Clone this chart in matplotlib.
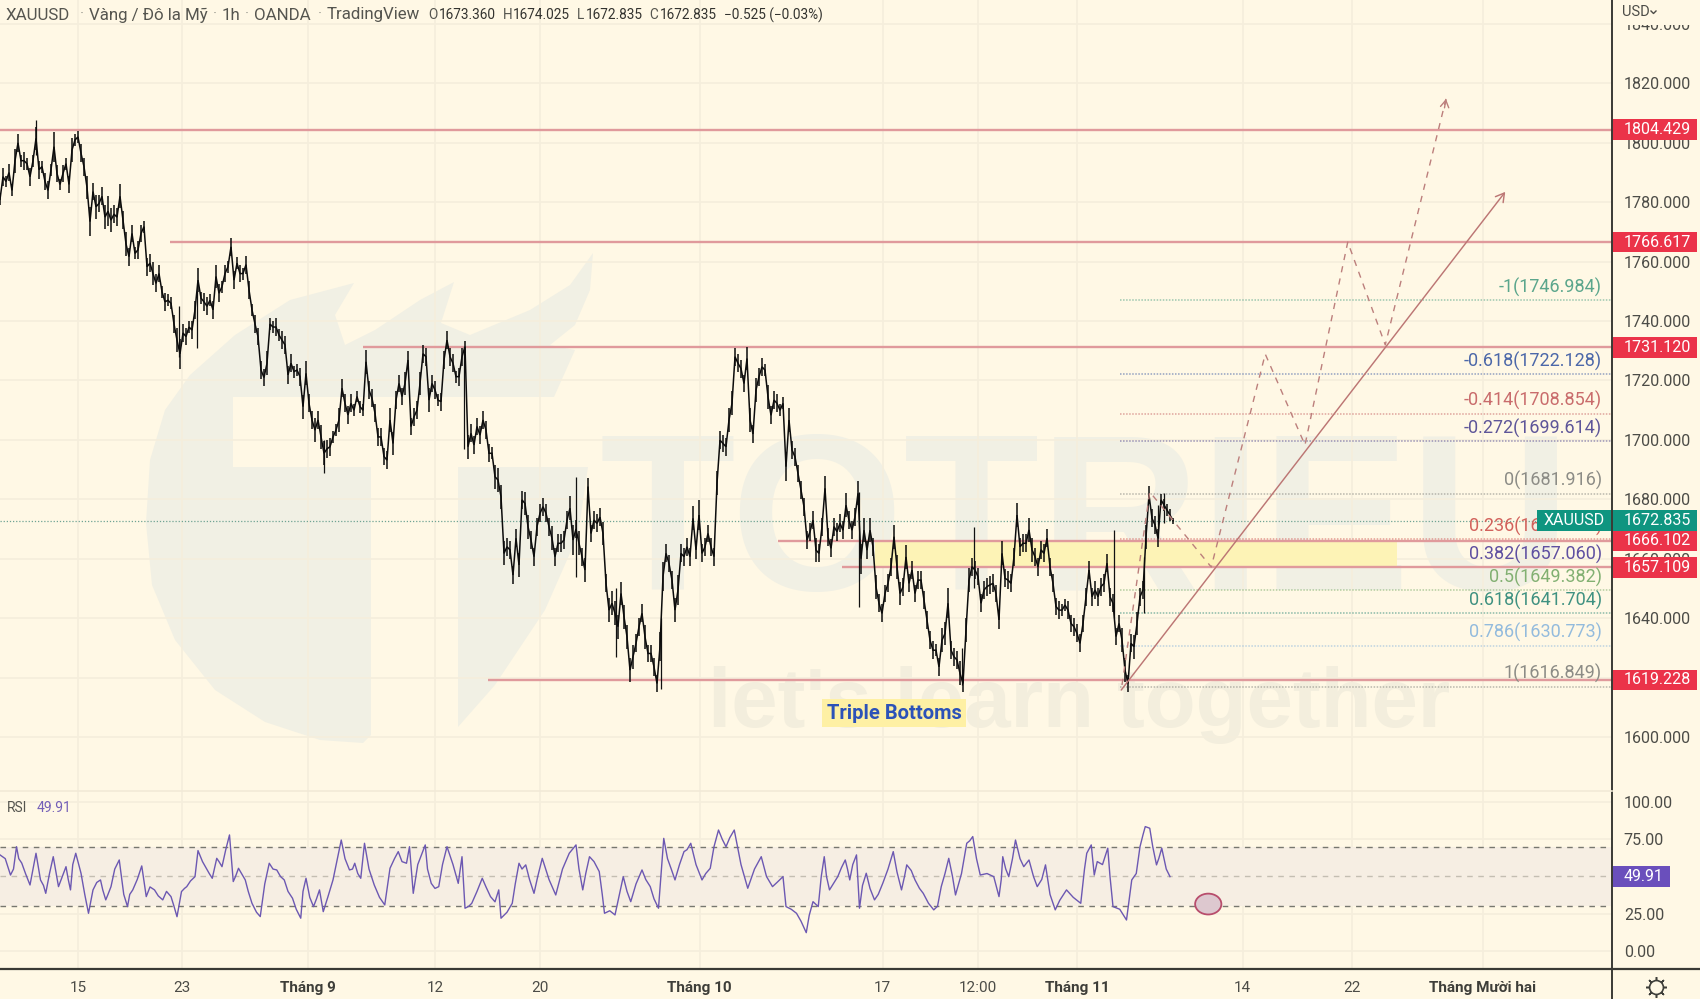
import numpy as np
import matplotlib
matplotlib.use("Agg")
import matplotlib.pyplot as plt
from matplotlib.patches import Rectangle, Ellipse, Polygon

plt.rcParams['font.family'] = ['Roboto', 'DejaVu Sans']

BG = '#FFF8E5'
GRID = '#F5EEDC'
WM = '#F1F0E4'
TXT = '#4C4C47'
FRAME = '#3A3A35'

# closing price, one value every 4 hourly bars
price_close = [
    1781,1788.6,1787,1790,1784,1794,1800,1794,1794,1793,
    1788.6,1794,1801.5,1791,1792,1787,1784,1791,1798.7,1789.7,
    1786,1789.7,1793,1786,1797.6,1801,1802,1796.5,1792,1785,
    1773.5,1783.6,1778.5,1779.6,1782,1775,1777,1774,1776,1775,
    1782,1774,1766,1761.7,1769.5,1762.8,1764,1769.5,1771.8,1758.3,
    1759.5,1756,1752.7,1756,1749.9,1746.5,1747,1746,1739,1733.6,
    1729,1736,1734.8,1738,1737,1743.8,1753.8,1747.7,1746.5,1745,
    1747,1743.8,1755,1749.4,1751.6,1756,1758.3,1765,1753.8,1759.5,
    1756,1756,1759,1750.5,1743.8,1739,1734.8,
    1723.5,1721,1725.8,1739,1738,1738,1735.3,1733.6,1732,1721.9,
    1725.8,1723,1723.5,1721.3,1711.2,1722.4,1712.3,1706.7,1703.3,1706.7,
    1701,1695.5,1697,1697.7,1701,1703.3,1706.7,1717.4,1712.3,1708.4,
    1712.3,1710,1714.6,1711.2,1710,1726.3,1716.8,1714,1709,1701,
    1701,1694.4,1693.2,1706.7,1698.8,1713.4,1719,1714.6,1719,1726.9,
    1704.5,1707.8,1710,1719,1729,1728,1713.4,1719,1716.8,1713.4,
    1712.9,1726.9,1733.6,1728,1725.8,1721.3,1721.3,1728,1731.4,1697.7,
    1702.2,1698.3,1704.5,1701.6,1706.7,1703.3,1695.5,1695.5,1687.6,1686.5,
    1680.9,1661.8,1664,1663,1654.5,1666.9,1657.9,1679.8,1678.6,1670.8,
    1666.3,1660.7,1670.8,1675.3,1677.5,1675.3,1670.8,1666.9,1660.7,1665.2,
    1665.2,1666.3,1673,1677,1666.3,1670,1665.2,1660.7,1656.2,1684.3,
    1668.5,1673,1671.9,1674,1668.5,1651.7,1642.7,1645,1641.6,1637.1,
    1648.3,1640.5,1633.7,1622.5,1627,1631.5,1637.1,1641.6,1633.7,1628.1,
    1628.1,1623.6,1618,1630.4,1654,1661.8,1658.4,1652.8,1642.7,1649.5,
    1661.8,1660.7,1664,1660.7,1673.6,1663,1674.7,1661.8,1664,1668.5,
    1664,1660.7,1685.4,
    1699.9,1698.8,1697.7,1706.7,1712.3,1728,1725.8,1724,1719,1727.4,
    1706.7,1702,1716.8,1721.3,1724.6,1723.5,1714.5,1708.3,1713.4,1712.3,
    1710,1712.3,1691,1706.7,1696.6,1694.3,1688.7,1683.1,1677.5,1666.3,
    1669.1,1673,1662.9,1661.8,1670.8,1683.7,1667.4,1663.5,1670.8,1669.1,
    1671.9,1669.6,1678,1673,1669.6,1674.1,1682,1660,1669.6,1662.9,
    1669.6,1664,1650.5,1645,1641.6,1648.3,1651.7,1657.3,1667.4,1657.3,
    1648.3,1650.5,1660.6,1651.7,1656.2,1648.3,1652.8,1652.8,1646,1639.3,
    1632.6,1629.2,1629.2,1623.6,1632.6,1634.8,1645,1629.2,1627,1625.9,
    1621.4,1618,1636,1652.8,1657.3,1656.2,1654,1645,1649.5,1650.6,
    1651.2,1651.7,1648.3,1639.4,1661.8,1653.4,1652.8,1651.7,1660.7,1674.7,
    1664,1665.2,1665.2,1669.7,1663,1660.7,1657.3,1663,1661.8,1666.9,
    1657.3,1651.7,1643.9,1642.7,1642.7,1644.4,1642.7,1638.2,1637.1,1634.9,
    1631.5,1638.2,1647.2,1656.2,1647.2,1649.5,1647.2,1650.6,1651.7,1658.5,
    1647.2,1645,1633.8,1638.2,1632.6,1622.5,1618,1631.5,1630.4,1638.2,
    1647.2,1649.5,1667.4,1681.5,1673.6,1671.4,1666.9,1679.8,1678.1,1676.4,
    1674.7,1672.835,
]
# half height of the black band around the close, same sampling
price_band = [
    2,3,2,3,2,4,3,2,3,2,
    3,2,4,3,2,3,3,2,5,3,
    2,3,2,3,4,2,2,3,3,4,
    5,3,4,3,3,4,5,4,3,3,
    4,3,4,3,3,2,3,3,2,3,
    3,4,3,3,2,3,2,2,3,4,
    5,3,3,2,3,3,4,2,3,3,
    2,3,4,3,2,3,2,3,3,2,
    3,2,3,3,2,3,3,
    3,3,4,2,2,3,2,3,3,3,
    3,2,2,3,4,4,3,3,4,3,
    4,4,3,3,2,2,4,3,3,3,
    3,2,2,2,2,4,3,3,3,3,
    3,3,3,4,4,3,3,3,4,3,
    3,3,3,4,3,3,4,3,3,2,
    3,3,3,3,3,2,3,3,2,4,
    3,3,3,3,3,3,3,2,4,4,
    4,4,3,3,3,3,4,3,4,4,
    3,3,3,3,3,3,3,4,3,3,
    3,3,3,4,5,3,4,3,4,3,
    3,3,3,3,4,3,4,4,4,4,
    4,4,4,4,4,3,3,3,4,3,
    3,3,3,5,5,3,3,3,4,5,
    3,3,3,3,4,3,5,3,3,3,
    3,3,4,
    3,3,3,4,4,3,3,3,3,4,
    4,3,4,3,3,2,4,3,3,3,
    2,2,5,4,3,3,3,3,3,3,
    3,3,4,3,3,4,3,3,3,3,
    3,3,4,3,3,3,4,5,4,3,
    4,3,4,3,3,3,3,3,4,4,
    4,3,4,3,3,3,3,3,3,3,
    3,3,2,3,4,4,5,3,3,3,
    4,3,4,4,3,3,3,3,3,3,
    3,3,3,3,4,3,3,3,3,4,
    3,3,3,4,4,3,3,3,3,3,
    3,3,3,3,2,2,3,3,3,3,
    3,3,3,3,3,3,3,3,3,3,
    3,3,3,3,4,4,3,3,4,4,
    3,3,4,3,3,3,3,2,2,2,
    2,1,
]
bars_per_sample = 4

# long wicks
wick_bar = [48, 238, 262, 432, 619, 768, 821, 881, 1145, 1283, 1298, 1485, 1525, 1544, 1552]
wick_low = [1796, 1728, 1730.8, 1688.7, 1697, 1654, 1627, 1616, 1643.8, 1617.5, 1650, 1640, 1641.6, 1666.9, 1672]
wick_high = [1807.7, 1745, 1750, 1700, 1731.4, 1687.6, 1650, 1640, 1682.5, 1630, 1670.8, 1669.7, 1660.7, 1678, 1682]

rsi_bar = [0,14,22,29,40,48,54,61,71,78,88,94,101,108,118,124,134,141,148,159,170,177,189,195,206,217,228,236,242,249,
    260,264,275,283,289,296,306,311,318,327,336,347,359,369,379,390,401,408,418,426,431,444,455,466,473,481,486,499,513,520,
    531,542,546,551,567,575,585,596,611,616,620,629,643,654,665,668,683,692,701,712,723,741,759,768,777,786,799,806,820,831,
    841,856,867,878,885,900,912,921,936,947,958,968,979,997,1015,1030,1044,1048,1062,1075,1084,1091,1099,1106,1117,1127,
    1133,1142,1146,1155,1166,1177,1191,1202,1209,1220,1231,1245,1255,1265,1274,1289,1297,1307,1325,1332,1337,1345,1354,1365,
    1372,1383,1394,1407,1422,1441,1449,1455,1459,1477,1484,1502,1509,1520,1527,1533,1542,1549,1560]
rsi_val = [64.5,51,70,59,44.3,65.6,47.7,38.7,63.3,43.2,56.6,41,65.6,52.2,25.3,41,47.7,34.3,43.2,61.1,29.8,41,57.1,36.5,41,34.3,36.5,23,39.9,43.2,
    49.9,67.4,55.5,48.8,62.2,56.6,77.9,46.6,55.5,47.7,32,23.1,58.9,54.4,47.7,35.4,22,48.8,29.8,41,26.4,47.7,74.5,54.4,58.9,48.8,72.3,44.3,30.9,55.5,
    66.7,58.9,70,38.7,71.2,45.4,43.2,70,45.4,63.3,28.7,32,48.8,36.5,41,22,32,58.9,57.8,38.7,62.2,37.6,65.6,71.2,41,63.3,53.3,25.3,24.2,49.9,
    33.1,54.4,43.2,28.7,75.6,47.7,66.7,72.3,47.7,55.5,81.2,70,81.2,42.1,63.3,43.2,49.9,29.8,25.3,12.3,33.1,29.8,63.3,41,49.9,61.1,
    47.7,64.5,28.7,52.2,34.3,45.4,66.7,41,57.8,47.7,38.7,27.6,43.2,62.2,37.6,72.3,76.8,51,49.9,36.5,63.3,49.9,74.5,56.6,
    61.1,43.2,57.8,27.6,41,32,65.6,71.2,51,69,29.8,20.8,47.7,70,83.5,82.4,57.8,69,49.91]
# smaller wiggles between the swings above
rsi_fine_bar = [7,18,25,34,44,58,66,83,91,97,113,129,137,144,153,165,173,183,192,200,211,222,232,246,254,270,279,292,301,314,
    322,331,342,353,364,374,384,395,404,413,422,437,449,460,470,477,492,506,526,536,557,570,580,590,604,625,636,648,660,676,
    687,696,706,717,732,750,772,781,792,803,813,825,836,848,861,872,890,895,906,916,928,941,952,963,973,988,1006,1022,1036,1055,
    1068,1079,1095,1102,1111,1122,1130,1137,1150,1160,1171,1184,1196,1206,1215,1226,1238,1250,1260,1270,1282,1293,1302,1316,1335,1341,
    1350,1360,1378,1389,1400,1413,1431,1446,1463,1470,1480,1493,1515,1524,1537,1545,1555]
rsi_fine_val = [62,55,62,52,55,44,52,50,48,58,38,46,41,38,55,38,38,48,47,43,37,40,30,42,47,60,52,60,68,50,
    52,40,26,45,55,50,40,28,40,36,35,36,60,62,55,52,55,36,62,60,58,55,42,58,58,30,40,43,33,26,
    45,55,48,50,48,55,55,52,60,38,27,36,40,45,48,35,62,55,58,68,58,52,70,75,76,58,55,50,46,28,
    20,24,50,50,45,56,55,58,44,42,38,55,53,50,54,42,32,30,52,50,52,74,62,52,48,55,
    62,62,50,48,38,34,36,55,60,58,50,28,52,78,70,62,55]

time_tick_bar = [104, 243, 411, 580, 720, 933, 1177, 1304, 1436, 1657, 1803, 1977]
time_tick_label = ['15', '23', 'Tháng 9', '12', '20', 'Tháng 10', '17', '12:00', 'Tháng 11', '14', '22', 'Tháng Mười hai']
time_tick_bold = ['Tháng 9', 'Tháng 10', 'Tháng 11', 'Tháng Mười hai']

price_ticks = [1600, 1620, 1640, 1660, 1680, 1700, 1720, 1740, 1760, 1780, 1800, 1820, 1840]
rsi_ticks = [0, 25, 75, 100]

level_price = [1804.429, 1766.617, 1731.120, 1666.102, 1657.109, 1619.228]
level_start = [0, 227, 484, 1037, 1123, 651]
zone_start, zone_end = 1167, 1863

fib_ratio = ['-1', '-0.618', '-0.414', '-0.272', '0', '0.236', '0.382', '0.5', '0.618', '0.786', '1']
fib_price = [1746.984, 1722.128, 1708.854, 1699.614, 1681.916, 1666.560, 1657.060, 1649.382, 1641.704, 1630.773, 1616.849]
fib_color = ['#5BA68C', '#4C68A9', '#C96C6C', '#5E5699', '#8C8C86', '#D2625C', '#5F50A1', '#82B072', '#3F9181', '#93BBDD', '#8C8C86']
fib_start = 1493

trend_bar = [1495, 2007]
trend_price = [1615.8, 1783.5]
path_bar = [1496, 1533, 1615, 1687, 1740, 1797, 1847, 1928]
path_price = [1617.5, 1682.5, 1657.2, 1728.9, 1698.3, 1766.6, 1732, 1814.8]

last_price = 1672.835
last_rsi = 49.91

X_MAX = 2149.33
PANE_W = 1612 / 1700

fig = plt.figure(figsize=(17, 9.99), dpi=100, facecolor=BG)

# watermark goes under everything, in picture pixels
bg = fig.add_axes([0, 0, 1, 1], zorder=0)
bg.set_xlim(0, 1700)
bg.set_ylim(999, 0)
bg.axis('off')
logo_left = [(146,523),(150,460),(165,410),(190,375),(235,335),(290,300),(354,283),(335,315),(345,345),(375,330),(420,300),
             (454,282),(441,323),(470,335),(530,310),(570,285),(593,253),(590,290),(575,325),(550,345),(575,350),
             (554,397),(233,397),(233,467),(371,467),(371,735),(363,743),(320,740),(265,722),(215,690),(175,640),(152,585)]
logo_right = [(458,467),(588,467),(578,535),(545,610),(495,685),(458,727)]
bg.add_patch(Polygon(logo_left, closed=True, fc=WM, ec='none'))
bg.add_patch(Polygon(logo_right, closed=True, fc=WM, ec='none'))
bg.text(600, 590, 'TOTRIEU', family='Liberation Sans', weight='bold',
        fontsize=160, color=WM, ha='left', va='baseline')
bg.text(708, 727, "let's learn together", family='Liberation Sans', weight='bold',
        fontsize=60, color='#F3EEDD', ha='left', va='baseline')

ax = fig.add_axes([0, 208 / 999, PANE_W, 791 / 999], zorder=1)
rs = fig.add_axes([0, 30 / 999, PANE_W, 178 / 999], zorder=1, sharex=ax)
for a in (ax, rs):
    a.patch.set_visible(False)
    for s in a.spines.values():
        s.set_visible(False)
    a.set_axisbelow(True)
    a.grid(True, color=GRID, lw=1.2)
    a.yaxis.tick_right()
    a.tick_params(axis='y', length=0, pad=8.5, labelsize=11.5, labelcolor=TXT)
    a.tick_params(axis='x', length=0)

ax.set_xlim(0, X_MAX)
ax.set_ylim(1581.8, 1848.1)
rs.set_ylim(-12.1, 107.4)

ax.set_yticks(price_ticks)
ax.set_yticklabels(['%.3f' % p for p in price_ticks])
rs.set_yticks(rsi_ticks)
rs.set_yticklabels(['%.2f' % r for r in rsi_ticks])
ax.tick_params(axis='x', labelbottom=False)
rs.set_xticks(time_tick_bar)
rs.set_xticklabels(time_tick_label, fontsize=11)
rs.tick_params(axis='x', pad=8.5, labelcolor=TXT)
for lab in rs.get_xticklabels():
    if lab.get_text() in time_tick_bold:
        lab.set_fontweight('bold')
        lab.set_color('#3E3E39')

# support / resistance lines and the yellow zone
ax.add_patch(Rectangle((zone_start, level_price[4]), zone_end - zone_start, level_price[3] - level_price[4],
                       fc='#FDF3B6', ec='none', zorder=1.5))
for p, x0 in zip(level_price, level_start):
    ax.hlines(p, x0, X_MAX, color='#E09A9C', lw=1.7, zorder=3)

# fibonacci levels
for r, p, c in zip(fib_ratio, fib_price, fib_color):
    ax.hlines(p, fib_start, X_MAX, color=c, lw=1.1, linestyles=(0, (1, 1)), alpha=0.6, zorder=2)
    ax.text(2136, p + 4.4, '%s(%.3f)' % (r, p), color=c, fontsize=13, ha='right', va='center', zorder=3)

ax.hlines(last_price, 0, X_MAX, color='#6FA394', lw=0.9, linestyles=(0, (1, 1.5)), zorder=2)

# price
close = np.array(price_close)
band = np.array(price_band)
price_bar = np.arange(len(close)) * bars_per_sample
n = min(len(close), len(band))
ax.vlines(wick_bar, wick_low, wick_high, color='#111111', lw=0.9, zorder=4)
ax.vlines(price_bar[:n], close[:n] - band[:n], close[:n] + band[:n], color='#0C0C0C', lw=1.1, zorder=4)
ax.plot(price_bar, close, color='#0C0C0C', lw=1.1, solid_joinstyle='miter', zorder=4)

# projected path and trend arrow
ax.plot(path_bar, path_price, color='#BC7F7C', lw=1.0, ls=(0, (4.5, 4.5)), zorder=5)
ax.annotate('', xy=(path_bar[-1], path_price[-1]), xytext=(path_bar[-1] - 2, path_price[-1] - 3),
            arrowprops=dict(arrowstyle='->,head_length=0.5,head_width=0.3', color='#BC7F7C', lw=1,
                            shrinkA=0, shrinkB=0), zorder=5)
ax.annotate('', xy=(trend_bar[1], trend_price[1]), xytext=(trend_bar[0], trend_price[0]),
            arrowprops=dict(arrowstyle='->,head_length=0.6,head_width=0.35', color='#BC7674', lw=1.05,
                            shrinkA=0, shrinkB=0), zorder=5)

ax.text(1192, 1608, 'Triple Bottoms', color='#2C52B8', fontsize=14.5, weight='bold', ha='center', va='center',
        bbox=dict(boxstyle='square,pad=0.22', fc='#FEF0A4', ec='none'), zorder=6)


def price_tag(a, value, text, color, half_height, width_px=85):
    tr = a.get_yaxis_transform()
    a.add_patch(Rectangle((1.0, value - half_height), width_px / 1612, 2 * half_height, transform=tr,
                          fc=color, ec='none', clip_on=False, zorder=8))
    a.text(1.0 + 12 / 1612, value, text, transform=tr, color='white', fontsize=11.5, ha='left', va='center',
           clip_on=False, zorder=9)


for p in level_price:
    price_tag(ax, p, '%.3f' % p, '#EB3349', 3.45)
price_tag(ax, last_price, '%.3f' % last_price, '#0F9580', 3.45)
tr = ax.get_yaxis_transform()
ax.add_patch(Rectangle((1537 / 1612, last_price - 3.45), 75 / 1612, 6.9, transform=tr, fc='#0F9580', ec='none', zorder=8))
ax.text(1574 / 1612, last_price, 'XAUUSD', transform=tr, color='white', fontsize=11.5, ha='center', va='center', zorder=9)

# RSI pane
rs.axhspan(30, 70, color='#F6EEE3', lw=0, zorder=1)
rs.hlines([70, 30], 0, X_MAX, color='#77776F', lw=1, linestyles=(0, (4, 4)), zorder=2)
rs.hlines(50, 0, X_MAX, color='#C4BEB2', lw=1, linestyles=(0, (4, 4)), zorder=2)
rsi_x = np.array(rsi_bar + rsi_fine_bar)
rsi_y = np.array(rsi_val + rsi_fine_val)
order = np.argsort(rsi_x)
rs.plot(rsi_x[order], rsi_y[order], color='#6C58B2', lw=1.0, zorder=4)
rs.add_patch(Ellipse((1611, 31.5), 35, 14, fc='#DDC8CF', ec='#B84D6C', lw=1.3, zorder=5))
price_tag(rs, last_rsi, '%.2f' % last_rsi, '#6A4FBC', 7, width_px=58)

# header, frame and small marks, in picture pixels
top = fig.add_axes([0, 0, 1, 1], zorder=10)
top.set_xlim(0, 1700)
top.set_ylim(999, 0)
top.axis('off')
top.patch.set_visible(False)
top.add_patch(Rectangle((1614, 0), 86, 25, fc=BG, ec='none'))
top.plot([1612, 1612], [0, 999], color=FRAME, lw=1.4)
top.plot([0, 1700], [969, 969], color=FRAME, lw=1.6)
top.plot([0, 1612], [791, 791], color='#F2EAD7', lw=1.2)

head_title = ['XAUUSD', 'Vàng / Đô la Mỹ', '1h', 'OANDA', 'TradingView']
head_title_x = [6, 89, 222, 254, 327]
for t, x in zip(head_title, head_title_x):
    top.text(x, 15, t, fontsize=12.2, color='#55554F', ha='left', va='center')
for x in [82, 215, 247, 320]:
    top.text(x, 15, '·', fontsize=11, color='#99998F', ha='center', va='center')
head_ohlc_key = ['O', 'H', 'L', 'C']
head_ohlc_val = ['1673.360', '1674.025', '1672.835', '1672.835']
head_key_x = [428, 503, 577, 649]
head_val_x = [439, 513, 586, 660]
for k, v, kx, vx in zip(head_ohlc_key, head_ohlc_val, head_key_x, head_val_x):
    top.text(kx, 15, k, fontsize=9.8, color='#55554F', ha='left', va='center')
    top.text(vx, 15, v, fontsize=9.8, color='#33332F', ha='left', va='center')
top.text(724, 15, '−0.525 (−0.03%)', fontsize=9.8, color='#33332F', ha='left', va='center')

top.text(7, 808, 'RSI', fontsize=10, color='#55554F', ha='left', va='center')
top.text(37, 808, '49.91', fontsize=10, color='#7460B8', ha='left', va='center')

top.text(1622, 12, 'USD', fontsize=10.5, color='#4C4C47', ha='left', va='center')
top.plot([1651, 1653.5, 1656], [11, 13.5, 11], color='#4C4C47', lw=1)

top.plot([1656], [987], marker=(8, 2, 0), ms=15, mew=1.1, color='#3E3E39')
top.plot([1656], [987], marker='o', ms=10, mew=1.2, mfc=BG, mec='#3E3E39')

fig.savefig('out.png', dpi=100, facecolor=BG)
